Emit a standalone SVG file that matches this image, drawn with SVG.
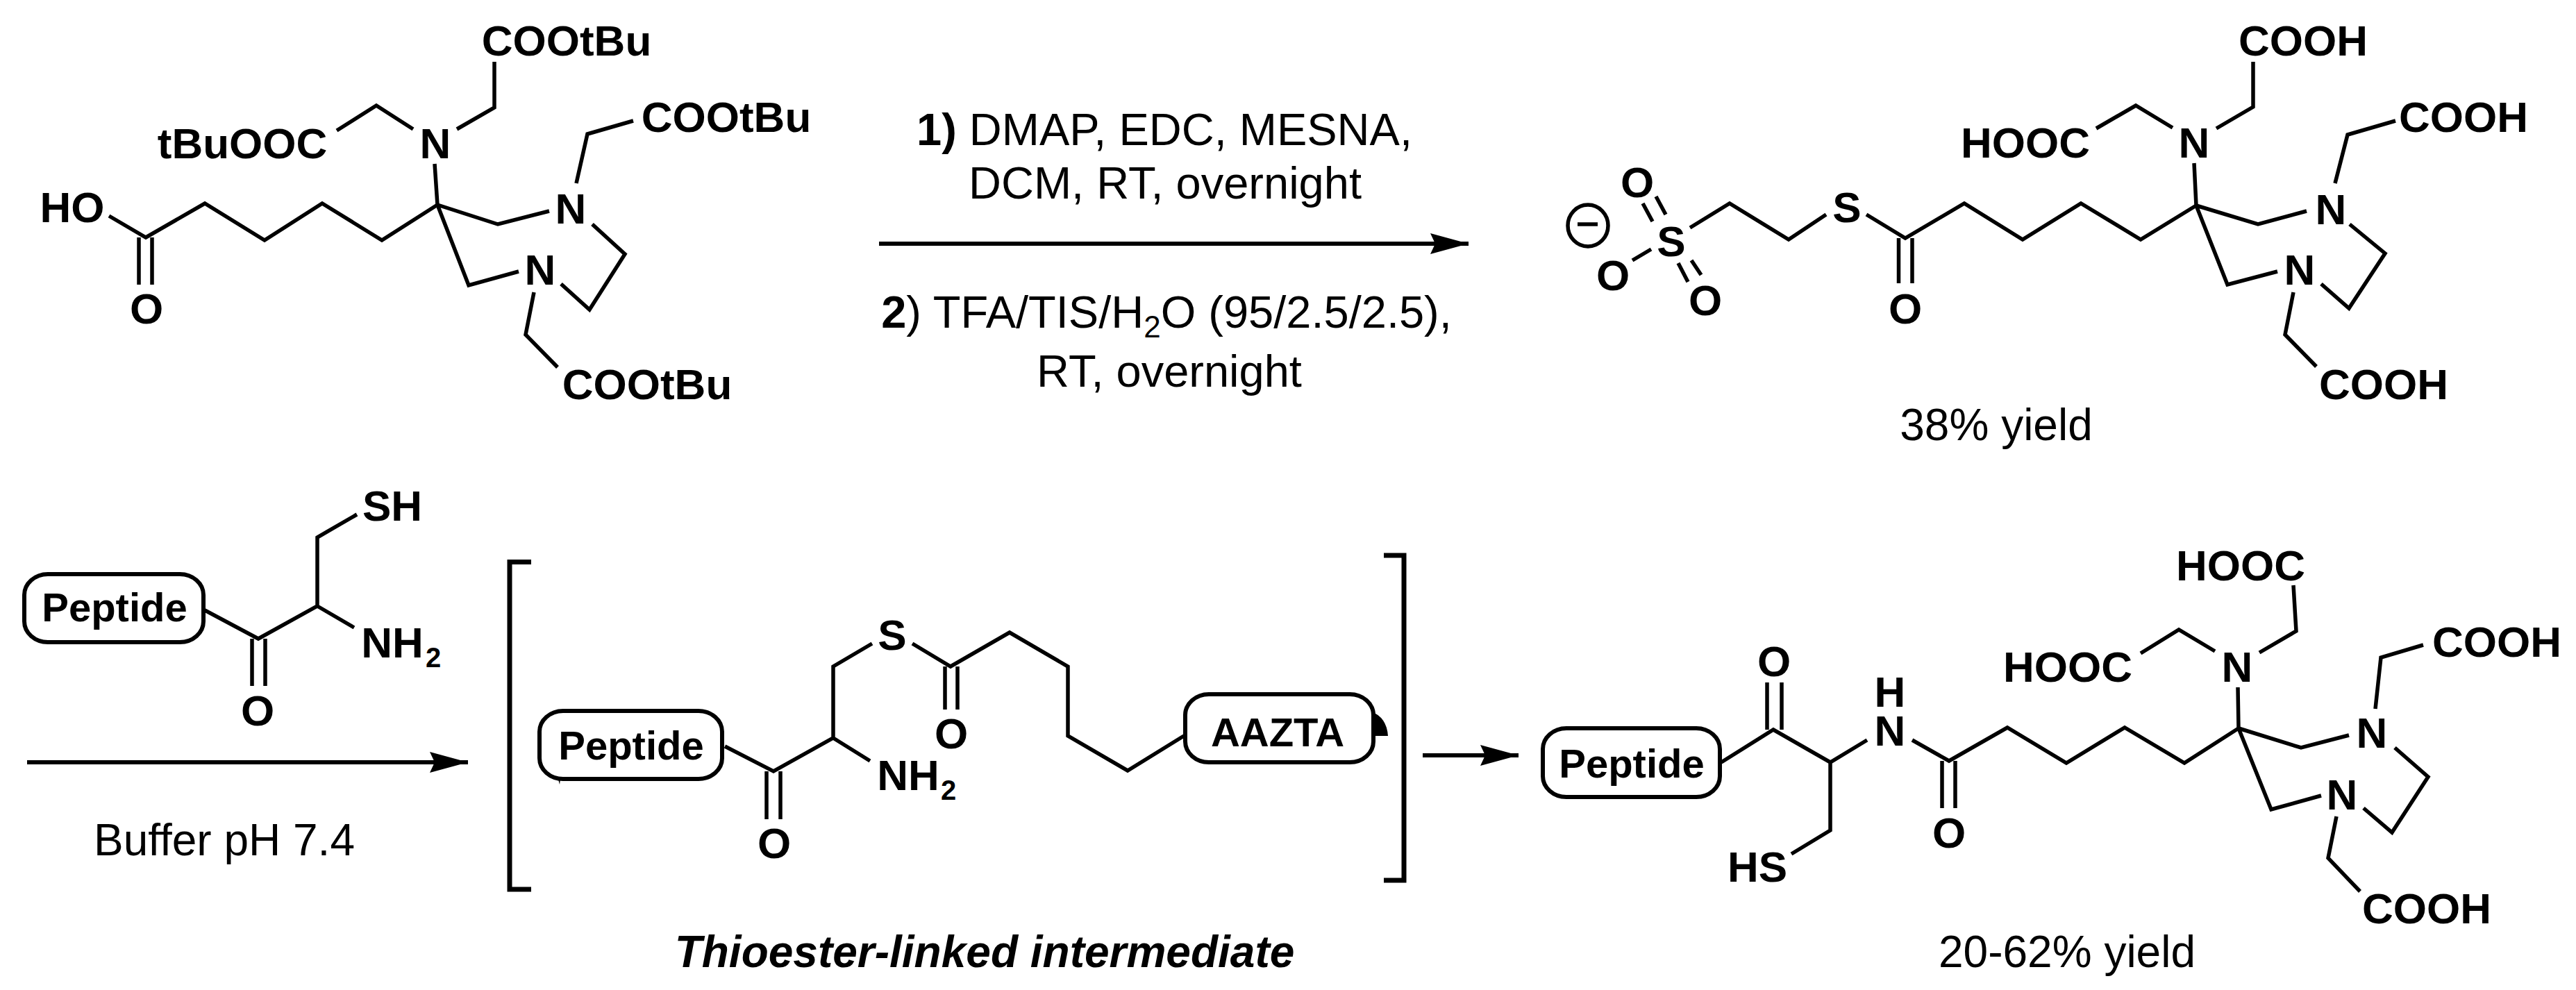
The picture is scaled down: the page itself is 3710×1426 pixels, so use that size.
<svg xmlns="http://www.w3.org/2000/svg" width="3710" height="1426" viewBox="0 0 3710 1426">
<style>
text{font-family:"Liberation Sans",Arial,sans-serif;fill:#000}
.a{font-size:62px;font-weight:700;text-anchor:middle}
.p{font-size:58px}
.s{font-size:40px;font-weight:700}
.r{font-size:64px}
.q{font-size:65px}
.m{text-anchor:middle}
.b{font-weight:700}
.bond{fill:none;stroke:#000;stroke-width:5.5;stroke-linejoin:miter;stroke-linecap:butt}
.box{fill:none;stroke:#000;stroke-width:6}
.br{fill:none;stroke:#000;stroke-width:7}
.arr{fill:none;stroke:#000;stroke-width:6}
</style>
<defs>
<marker id="head" markerUnits="userSpaceOnUse" markerWidth="60" markerHeight="30" refX="55" refY="15" orient="auto" overflow="visible"><path d="M0,0 L55,15 L0,30 L7,15 Z" fill="#000"/></marker>
</defs>
<rect width="3710" height="1426" fill="#fff"/>

<g id="connectors">
<path class="arr" d="M1266,351 H2115" marker-end="url(#head)"/>
<path class="arr" d="M39,1098 H674" marker-end="url(#head)"/>
<path class="arr" d="M2049,1088 H2187" marker-end="url(#head)"/>
</g>

<g id="reagents-top">
<text class="q m" x="1677" y="209"><tspan class="b">1)</tspan> DMAP, EDC, MESNA,</text>
<text class="q m" x="1678" y="286">DCM, RT, overnight</text>
<text class="q m" x="1680" y="472"><tspan class="b">2</tspan>) TFA/TIS/H<tspan font-size="44" dy="14">2</tspan><tspan dy="-14">O (95/2.5/2.5),</tspan></text>
<text class="q m" x="1684" y="557">RT, overnight</text>
</g>

<g id="buffer-label"><text class="r m" x="323" y="1232">Buffer pH 7.4</text></g>

<g id="aazta-ester">
<path class="bond" d="M626,236 L630,295 M658,186 L712,155 V89 M595,186 L542,152 L485,188"/>
<path class="bond" d="M630,295 L550,346 L464,293 L381,346 L295,293 L210,342 L157,311"/>
<path class="bond" d="M200,342 V410 M219,342 V410"/>
<path class="bond" d="M630,295 L717,323 L791,304 M853,323 L900,366 L849,446 L808,409 M630,295 L675,411 L747,391"/>
<path class="bond" d="M830,264 L846,193 L912,174 M769,421 L757,482 L803,529"/>
<text class="a" x="816" y="80">COOtBu</text>
<text class="a" x="349" y="228">tBuOOC</text>
<text class="a" x="627" y="228">N</text>
<text class="a" x="104" y="320">HO</text>
<text class="a" x="211" y="466">O</text>
<text class="a" x="822" y="322">N</text>
<text class="a" x="778" y="410">N</text>
<text class="a" x="1046" y="190">COOtBu</text>
<text class="a" x="932" y="575">COOtBu</text>
</g>

<g id="aazta-thioester">
<path class="bond" d="M3160,235 L3163,296 M3192,185 L3245,154 V89 M3129,184 L3076,152 L3019,185"/>
<path class="bond" d="M3163,296 L3083,345 L2997,293 L2913,345 L2829,293 L2744,343 L2688,309"/>
<path class="bond" d="M2630,309 L2576,345 L2491,293 L2434,328"/>
<path class="bond" d="M2734.5,343 V408 M2754,343 V408"/>
<path class="bond" d="M2366,293 L2380,319 M2385,283 L2399,309 M2351,375 L2378,359 M2417,379 L2431,406 M2436,375 L2450,396"/>
<path class="bond" d="M3163,296 L3252,323 L3322,304 M3384,323 L3435,365 L3383,444 L3343,409 M3163,296 L3208,410 L3280,391"/>
<path class="bond" d="M3363,264 L3381,194 L3450,174 M3303,421 L3291,482 L3336,528"/>
<ellipse class="bond" cx="2287" cy="325" rx="29" ry="30"/>
<path class="bond" d="M2272,323 H2301"/>
<text class="a" x="3317" y="80">COOH</text>
<text class="a" x="2917" y="227">HOOC</text>
<text class="a" x="3160" y="227">N</text>
<text class="a" x="2660" y="320">S</text>
<text class="a" x="2407" y="369">S</text>
<text class="a" x="2744" y="466">O</text>
<text class="a" x="2358" y="284">O</text>
<text class="a" x="2323" y="418">O</text>
<text class="a" x="2456" y="454">O</text>
<text class="a" x="3357" y="323">N</text>
<text class="a" x="3312" y="410">N</text>
<text class="a" x="3548" y="190">COOH</text>
<text class="a" x="3433" y="575">COOH</text>
<text class="r m" x="2875" y="634">38% yield</text>
</g>

<g id="peptide-cys">
<rect class="box" x="35" y="827" width="258" height="98" rx="34" ry="30"/>
<text class="a p" x="165" y="895">Peptide</text>
<path class="bond" d="M295,879 L372,920 L457,873 V774 L514,741 M457,873 L510,904"/>
<path class="bond" d="M363,920 V988 M382,920 V988"/>
<text class="a" x="565" y="750">SH</text>
<text class="a" x="565" y="947">NH</text>
<text class="s" x="613" y="961">2</text>
<text class="a" x="371" y="1045">O</text>
</g>

<g id="intermediate">
<path class="br" d="M765,809.5 H734 V1281 H765"/>
<path class="br" d="M1993,800 H2022 V1268 H1993"/>
<rect class="box" x="777" y="1024" width="263" height="98" rx="34" ry="30"/>
<path d="M803,1119 L807,1122 L806,1130 Z" fill="#000"/>
<text class="a p" x="909" y="1094">Peptide</text>
<path class="bond" d="M1044,1075 L1114,1111 L1200,1063 V960 L1256,927 M1200,1063 L1253,1096"/>
<path class="bond" d="M1314,927 L1369,960 L1454,911 L1538,960 V1060 L1624,1110 L1705,1060"/>
<path class="bond" d="M1104,1111 V1180 M1124,1111 V1180 M1361,960 V1022 M1379,960 V1022"/>
<rect class="box" x="1707" y="1000" width="271" height="98" rx="34" ry="30"/>
<text class="a p" x="1840" y="1075">AAZTA</text>
<path d="M1975,1025 Q1997,1033 1999,1060 H1981 Z" fill="#000"/>
<text class="a" x="1285" y="936">S</text>
<text class="a" x="1308" y="1138">NH</text>
<text class="s" x="1355" y="1152">2</text>
<text class="a" x="1115" y="1236">O</text>
<text class="a" x="1370" y="1078">O</text>
<text class="r m b" x="1418" y="1393" font-style="italic">Thioester-linked intermediate</text>
</g>

<g id="product">
<rect class="box" x="2222" y="1049" width="255" height="99" rx="34" ry="30"/>
<text class="a p" x="2350" y="1120">Peptide</text>
<path class="bond" d="M2479,1098 L2554,1051 L2636,1098 L2689,1066 M2636,1098 V1196 L2580,1230"/>
<path class="bond" d="M2545,1051 V983 M2566,1051 V983 M2797,1096 V1164 M2816,1096 V1164"/>
<path class="bond" d="M2754,1066 L2807,1096 L2891,1048 L2976,1099 L3060,1048 L3146,1099 L3224,1049"/>
<path class="bond" d="M3223,990 L3224,1049 M3254,940 L3307,909 L3303,843 M3190,938 L3138,907 L3083,941"/>
<path class="bond" d="M3224,1049 L3314,1077 L3383,1059 M3449,1077 L3497,1119 L3445,1199 L3404,1164 M3224,1049 L3271,1166 L3343,1146"/>
<path class="bond" d="M3421,1021 L3429,947 L3490,929 M3365,1176 L3353,1236 L3399,1284"/>
<text class="a" x="3227" y="836">HOOC</text>
<text class="a" x="2978" y="982">HOOC</text>
<text class="a" x="3222" y="982">N</text>
<text class="a" x="2555" y="974">O</text>
<text class="a" x="2722" y="1018">H</text>
<text class="a" x="2722" y="1074">N</text>
<text class="a" x="2807" y="1221">O</text>
<text class="a" x="2531" y="1270">HS</text>
<text class="a" x="3416" y="1077">N</text>
<text class="a" x="3373" y="1166">N</text>
<text class="a" x="3596" y="946">COOH</text>
<text class="a" x="3495" y="1330">COOH</text>
<text class="r m" x="2977" y="1393">20-62% yield</text>
</g>
</svg>
